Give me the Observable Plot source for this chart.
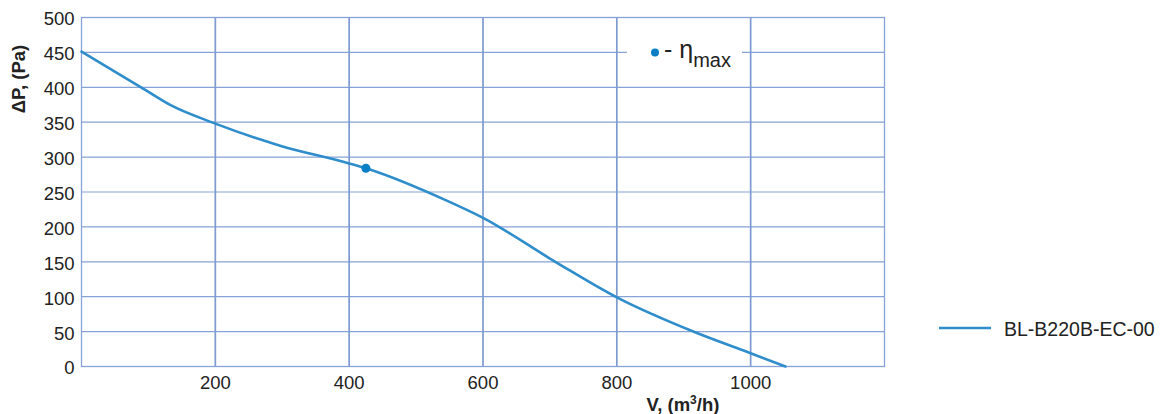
<!DOCTYPE html>
<html>
<head>
<meta charset="utf-8">
<script src="https://cdn.jsdelivr.net/npm/d3@7"></script>
<script src="https://cdn.jsdelivr.net/npm/@observablehq/plot@0.6"></script>
<style>
  html, body { margin: 0; padding: 0; background: #fff; }
  #chart svg { display: block; }
</style>
</head>
<body>
<div id="chart"></div>
<script>
// Data
const flow = [0, 89, 134, 200, 298, 400, 425, 545, 600, 708, 800, 917, 1000, 1052];
const pressure = [451, 400, 374, 348, 316, 291, 284, 238, 213, 150, 99, 49, 19, 0];
const etaMaxFlow = [425];
const etaMaxPressure = [284];
const xTicks = [200, 400, 600, 800, 1000];
const yTicks = [0, 50, 100, 150, 200, 250, 300, 350, 400, 450, 500];
const seriesName = "BL-B220B-EC-00";

const curve = flow.map((v, i) => ({v, p: pressure[i]}));
const eta = etaMaxFlow.map((v, i) => ({v, p: etaMaxPressure[i]}));

const gridColor = "#86a2d6";
const gridColorV = "#7d9bd0";
const lineColor = "#2f8dcc";
const dotColor = "#0a7fc6";
const font = "'Liberation Sans', Arial, Helvetica, sans-serif";

const plot = Plot.plot({
  width: 1169,
  height: 414,
  marginLeft: 81,
  marginRight: 285,
  marginTop: 17,
  marginBottom: 48,
  x: {domain: [0, 1200]},
  y: {domain: [0, 500]},
  style: {fontFamily: font, fontSize: "19px", color: "#222", background: "#fff"},
  marks: [
    Plot.gridY(yTicks, {stroke: gridColor, strokeOpacity: 1, strokeWidth: 1.2}),
    Plot.gridX(xTicks, {stroke: gridColorV, strokeOpacity: 1, strokeWidth: 1.7}),
    Plot.frame({stroke: gridColor, strokeWidth: 1.3}),
    Plot.axisY(yTicks, {tickSize: 0, tickPadding: 7, label: null, dy: 2, fontSize: 18.5, tickFormat: d => String(d)}),
    Plot.axisX(xTicks, {tickSize: 0, tickPadding: 9, label: null, fontSize: 18.5, tickFormat: d => String(d)}),
    Plot.line(curve, {x: "v", y: "p", curve: "monotone-x", stroke: lineColor, strokeWidth: 2.6}),
    Plot.dot(eta, {x: "v", y: "p", r: 4.5, fill: dotColor, stroke: "none"})
  ]
});

document.getElementById("chart").appendChild(plot);

const svg = d3.select(plot);
const ns = svg.append("g").attr("font-family", font).attr("fill", "#222").attr("text-anchor", "start");

// eta max legend box over the grid
const lg = ns.append("g");
lg.append("rect").attr("x", 627).attr("y", 40).attr("width", 115).attr("height", 26).attr("fill", "#fff");
lg.append("circle").attr("cx", 655).attr("cy", 52.5).attr("r", 4).attr("fill", dotColor);
const et = lg.append("text").attr("x", 664).attr("y", 58).attr("font-size", 25)
  .attr("text-anchor", "start").attr("fill", "#222");
et.append("tspan").text("- \u03B7");
et.append("tspan").attr("font-size", 20).attr("dy", 9).text("max");

// series legend on the right
ns.append("line").attr("x1", 939).attr("x2", 991).attr("y1", 328).attr("y2", 328)
  .attr("stroke", lineColor).attr("stroke-width", 2.5);
ns.append("text").attr("x", 1004).attr("y", 335.5).attr("font-size", 19.5)
  .attr("text-anchor", "start").attr("fill", "#222").text(seriesName);

// axis titles
ns.append("text")
  .attr("transform", "translate(25,79) rotate(-90)")
  .attr("text-anchor", "middle")
  .attr("font-size", 18.5)
  .attr("font-weight", "bold")
  .text("\u0394P, (Pa)");

const xt = ns.append("text")
  .attr("x", 683).attr("y", 411)
  .attr("text-anchor", "middle")
  .attr("font-size", 18.5)
  .attr("font-weight", "bold");
xt.append("tspan").text("V, (m");
xt.append("tspan").attr("font-size", 12).attr("dy", -7).text("3");
xt.append("tspan").attr("dy", 7).text("/h)");
</script>
</body>
</html>
